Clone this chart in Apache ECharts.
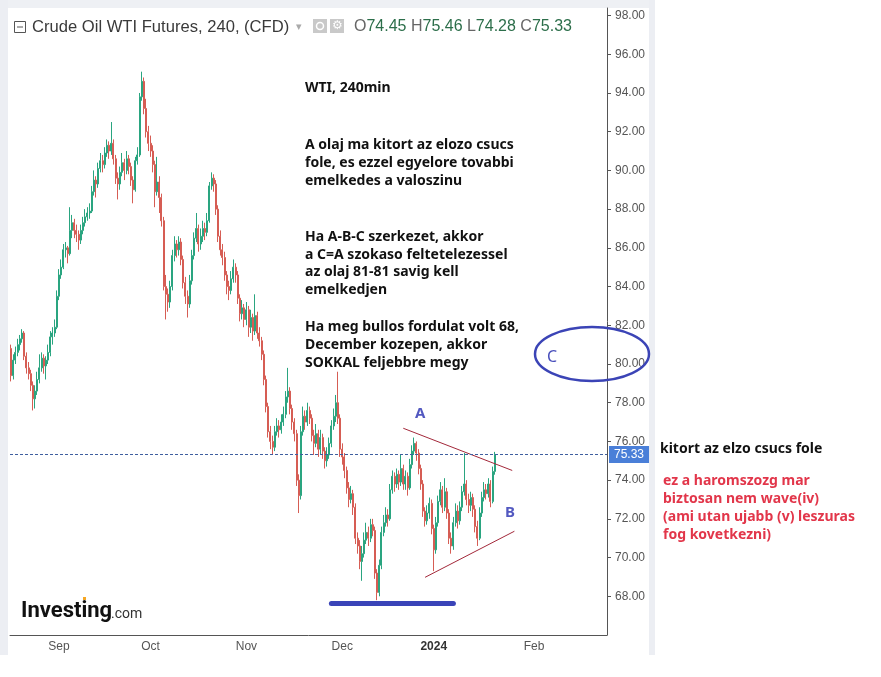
<!DOCTYPE html>
<html>
<head>
<meta charset="utf-8">
<script src="https://cdn.jsdelivr.net/npm/echarts@6/dist/echarts.min.js"></script>
<style>
html,body{margin:0;padding:0;background:#fff;}
#chart{width:881px;height:677px;}
</style>
</head>
<body>
<div id="chart"></div>
<script>
// 240 min candles (2 bars / weekday here)
var firstOpen = 80.8;
var closes = [
 79.4,80.2,80.6,81.0,81.3,81.6,80.4,79.8,79.5,78.9,
 78.2,78.6,79.2,79.8,80.3,79.9,80.2,80.6,81.4,81.6,
 81.9,83.5,84.6,85.0,85.9,86.0,85.7,86.9,87.3,86.9,
 86.7,86.4,86.9,87.3,87.6,87.8,87.9,88.9,89.5,89.3,
 90.1,90.5,90.3,90.9,91.3,91.0,91.4,90.6,89.6,89.3,
 89.9,90.4,90.0,90.6,90.2,89.5,89.0,90.5,90.8,93.8,
 94.6,93.2,92.0,91.4,91.0,90.3,88.9,89.4,88.6,87.4,
 84.0,83.6,83.2,84.0,85.6,86.2,85.9,86.3,85.4,84.2,
 83.5,83.1,84.3,85.6,86.5,87.0,86.2,86.6,87.0,86.8,
 87.4,89.2,89.6,89.3,88.0,86.6,85.9,85.5,84.6,84.0,
 83.8,84.4,85.0,84.6,83.4,82.6,82.9,82.3,82.8,81.9,
 82.4,81.7,82.5,81.6,81.2,80.5,79.2,77.8,76.5,76.0,
 75.7,76.5,76.8,76.6,77.0,77.4,78.3,78.6,77.7,77.0,
 76.4,74.0,73.2,76.5,77.3,77.0,77.6,77.2,76.3,75.9,
 76.4,75.6,76.2,75.5,75.0,75.3,75.9,76.8,77.3,78.0,
 77.2,75.6,75.2,74.5,73.6,73.0,73.3,72.6,71.0,70.6,
 69.8,70.2,70.9,71.3,71.0,71.7,71.4,69.2,68.2,69.6,
 71.3,71.8,72.2,72.0,73.5,74.2,73.8,74.3,73.9,74.6,
 73.8,74.2,73.6,74.8,75.5,75.9,75.4,74.6,73.8,72.4,
 71.9,72.3,72.8,71.5,70.4,71.8,72.9,73.5,72.6,73.4,
 72.3,71.0,70.6,71.8,72.4,71.9,72.6,73.4,73.8,73.0,
 72.7,73.1,72.5,71.6,71.0,72.3,73.1,73.5,73.3,73.8,
 72.9,74.45,75.33
];
var highs = [
 81.0,80.5,80.9,81.3,81.5,81.8,81.7,80.6,80.1,79.7,
 79.1,78.9,79.6,80.5,80.6,80.5,80.4,81.0,81.7,81.9,
 82.3,83.8,84.9,85.4,86.2,86.3,86.1,88.1,87.7,87.5,
 87.2,86.9,87.2,87.6,88.0,88.1,88.3,89.2,90.0,89.7,
 90.4,90.9,90.8,91.2,91.6,91.5,92.5,91.6,90.8,89.9,
 90.2,90.9,90.6,91.0,90.8,90.4,89.7,90.7,91.2,94.0,
 95.1,94.8,93.7,92.3,91.8,91.3,90.5,90.7,89.7,88.8,
 87.6,84.6,83.9,84.3,85.9,86.6,86.4,86.6,86.5,85.6,
 84.5,83.8,84.6,85.9,86.8,87.8,87.2,87.0,87.4,87.3,
 87.8,89.4,89.9,89.8,89.5,88.2,86.9,86.2,85.8,84.8,
 84.3,84.8,85.4,85.2,84.8,83.6,83.3,83.1,83.2,83.0,
 82.8,82.6,83.6,82.7,81.9,81.4,80.7,79.4,78.0,76.8,
 76.3,76.8,77.2,77.1,77.4,77.8,78.6,79.8,78.8,77.9,
 77.2,76.6,74.3,76.8,77.8,77.6,78.0,77.8,77.4,76.6,
 76.9,76.6,76.6,76.4,75.7,75.7,76.2,77.1,77.7,78.4,
 79.6,77.4,75.9,75.4,74.7,73.9,73.7,73.5,72.8,71.3,
 70.9,70.6,71.3,71.8,71.6,72.0,72.0,71.6,69.4,69.9,
 71.6,72.2,72.6,72.5,73.8,74.5,74.4,74.6,74.5,75.3,
 74.8,74.5,74.4,75.1,75.8,76.2,76.0,75.6,74.8,74.0,
 72.6,72.7,73.1,73.0,71.7,72.1,73.2,73.9,73.7,74.1,
 73.6,72.5,71.3,72.1,72.8,72.7,72.9,73.7,75.4,74.0,
 73.3,73.4,73.3,72.7,71.9,72.6,73.4,73.9,73.8,74.1,
 74.0,74.7,75.46
];
var lows = [
 79.1,79.2,80.0,80.4,80.7,81.1,80.2,79.5,79.2,78.6,
 77.6,77.7,78.4,79.0,79.6,79.5,79.2,80.0,80.4,81.0,
 81.4,81.8,83.3,84.4,84.9,85.5,85.2,85.6,86.5,86.5,
 86.3,85.9,86.2,86.7,87.1,87.4,87.5,87.8,88.7,88.6,
 89.1,89.9,89.9,90.1,90.7,90.6,90.8,90.3,89.3,88.5,
 89.0,89.7,89.5,89.8,89.8,89.2,88.3,88.9,90.3,90.7,
 93.6,92.9,91.7,91.0,90.7,89.9,88.1,88.7,87.8,87.1,
 83.8,82.3,82.7,82.9,83.8,85.3,85.5,85.6,85.1,83.9,
 83.1,82.4,82.9,84.1,85.4,86.3,85.8,85.9,86.3,86.4,
 86.6,87.3,89.0,88.9,87.7,86.3,85.6,85.1,84.3,83.6,
 83.3,83.6,84.2,84.2,83.1,82.2,82.3,81.9,82.0,81.4,
 81.6,81.2,81.5,81.3,80.9,80.2,78.9,77.5,76.2,75.6,
 75.3,75.5,76.3,76.2,76.4,76.8,77.2,78.0,77.4,76.6,
 76.0,73.7,72.3,73.0,76.3,76.6,76.8,76.9,76.0,75.3,
 75.7,75.2,75.3,75.1,74.6,74.7,75.1,75.7,76.6,77.0,
 76.9,75.2,74.8,74.1,73.3,72.6,72.8,72.2,70.7,70.2,
 69.4,68.8,70.0,70.7,70.6,70.8,71.1,68.9,67.8,68.0,
 69.4,71.1,71.6,71.6,71.9,73.3,73.4,73.6,73.5,73.7,
 73.5,73.5,73.2,73.5,74.6,75.3,75.0,74.3,73.5,72.1,
 71.6,71.7,72.0,71.2,69.3,70.2,71.6,72.7,72.3,72.4,
 72.0,70.7,70.2,70.4,71.6,71.5,71.7,72.4,73.2,72.7,
 72.3,72.4,72.1,71.3,70.6,70.9,72.1,72.9,73.0,73.1,
 72.6,72.8,74.28
];
var monthTicks = {'2023-09-01':'Sep','2023-10-02':'Oct','2023-11-01':'Nov','2023-12-01':'Dec','2024-01-01':'2024','2024-02-01':'Feb'};
var lastPrice = 75.33;

// categories: weekdays, two 12h slots each
var cats = [];
var d = new Date(Date.UTC(2023, 7, 17));
var end = new Date(Date.UTC(2024, 1, 23));
while (d <= end) {
    var wd = d.getUTCDay();
    if (wd != 0 && wd != 6) {
        var s = d.toISOString().slice(0, 10);
        cats.push(s + ' 00:00');
        cats.push(s + ' 12:00');
    }
    d.setUTCDate(d.getUTCDate() + 1);
}

var candles = [];
for (var i = 0; i < closes.length; i++) {
    var o = i == 0 ? firstOpen : closes[i - 1];
    candles.push([o, closes[i], lows[i], highs[i]]);
}

function isMonthTick(idx, val) {
    return val.slice(11) == '00:00' && monthTicks[val.slice(0, 10)] !== undefined;
}

var chart = echarts.init(document.getElementById('chart'));
var txt = function (t, x, y, font, fill, extra) {
    var o = {type: 'text', z: 100, style: {text: t, x: x, y: y, font: font, fill: fill,
        align: 'left', verticalAlign: 'middle', textAlign: 'left', textVerticalAlign: 'middle'}};
    if (extra) for (var k in extra) o.style[k] = extra[k];
    return o;
};
var noteFont = 'bold 14px "Noto Sans"';
var notes = [
    ['WTI, 240min', 88],
    ['A olaj ma kitort az elozo csucs', 145],
    ['fole, es ezzel egyelore tovabbi', 163],
    ['emelkedes a valoszinu', 181],
    ['Ha A-B-C szerkezet, akkor', 237],
    ['a C=A szokaso feltetelezessel', 255],
    ['az olaj 81-81 savig kell', 272],
    ['emelkedjen', 290],
    ['Ha meg bullos fordulat volt 68,', 327],
    ['December kozepen, akkor', 345],
    ['SOKKAL feljebbre megy', 363]
];
var redNotes = [
    ['ez a haromszozg mar', 481],
    ['biztosan nem wave(iv)', 499],
    ['(ami utan ujabb (v) leszuras', 517],
    ['fog kovetkezni)', 535]
];
var graphics = [
    {type: 'rect', z: 0, shape: {x: 0, y: 0, width: 655, height: 8}, style: {fill: '#eef0f4'}},
    {type: 'rect', z: 0, shape: {x: 0, y: 0, width: 8, height: 655}, style: {fill: '#eceef3'}},
    {type: 'rect', z: 0, shape: {x: 649, y: 0, width: 6, height: 655}, style: {fill: '#eceef3'}},
    // title row
    {type: 'rect', z: 100, shape: {x: 14.5, y: 21.5, width: 11, height: 11}, style: {fill: 'none', stroke: '#555', lineWidth: 1}},
    {type: 'line', z: 100, shape: {x1: 17, y1: 27, x2: 23, y2: 27}, style: {stroke: '#555', lineWidth: 1}},
    txt('Crude Oil WTI Futures, 240, (CFD)', 32, 27, '16.6px "Liberation Sans"', '#3a3a3a'),
    txt('\u25BE', 296, 27, '11px "DejaVu Sans"', '#aaa'),
    {type: 'rect', z: 100, shape: {x: 313, y: 19, width: 14, height: 14}, style: {fill: '#c9c9c9'}},
    {type: 'circle', z: 101, shape: {cx: 320, cy: 26, r: 3.5}, style: {fill: 'none', stroke: '#fff', lineWidth: 1.5}},
    {type: 'rect', z: 100, shape: {x: 330, y: 19, width: 14, height: 14}, style: {fill: '#c9c9c9'}},
    txt('\u2699', 332, 26, '12px "DejaVu Sans"', '#fff'),
    txt('{l|O}{n|74.45} {l|H}{n|75.46} {l|L}{n|74.28} {l|C}{n|75.33}', 354, 27, '16px "Liberation Sans"', '#555',
        {rich: {l: {fill: '#666', font: '16px "Liberation Sans"'}, n: {fill: '#2c6e4a', font: '16px "Liberation Sans"'}}}),
    // logo
    txt('Investing', 21, 611, 'bold 22px Roboto', '#111'),
    txt('.com', 111, 614, '14px Roboto', '#333'),
    {type: 'rect', z: 101, shape: {x: 83, y: 597, width: 3, height: 3}, style: {fill: '#f5a623'}},
    // wave labels
    txt('A', 415, 414, 'bold 15px "Noto Sans"', '#5258c0'),
    txt('B', 505, 513, 'bold 15px "Noto Sans"', '#5258c0'),
    txt('C', 547, 357, '16px "Noto Sans"', '#4a50bc'),
    {type: 'ellipse', z: 100, shape: {cx: 592, cy: 354, rx: 57, ry: 27}, style: {fill: 'none', stroke: '#3b44b6', lineWidth: 2.5}},
    txt('kitort az elzo csucs fole', 660, 449, noteFont, '#111')
];
notes.forEach(function (n) { graphics.push(txt(n[0], 305, n[1], noteFont, '#111')); });
redNotes.forEach(function (n) { graphics.push(txt(n[0], 663, n[1], noteFont, '#e2364a')); });

var option = {
    animation: false,
    backgroundColor: '#fff',
    grid: {left: 10, right: 274, top: 8, bottom: 42},
    xAxis: {
        type: 'category',
        data: cats,
        boundaryGap: true,
        axisLine: {lineStyle: {color: '#555', width: 1}},
        axisTick: {interval: isMonthTick, length: 4, lineStyle: {color: '#555'}},
        axisLabel: {
            interval: isMonthTick,
            color: '#555',
            fontSize: 12,
            fontFamily: 'Liberation Sans',
            margin: 6,
            formatter: function (v) {
                var m = monthTicks[v.slice(0, 10)];
                return m == '2024' ? '{b|2024}' : m;
            },
            rich: {b: {color: '#333', fontWeight: 'bold', fontSize: 12, fontFamily: 'Liberation Sans'}}
        },
        splitLine: {show: false}
    },
    yAxis: {
        type: 'value',
        position: 'right',
        min: 66,
        max: 98.39,
        interval: 2,
        scale: true,
        axisLine: {show: true, lineStyle: {color: '#555', width: 1}},
        axisTick: {show: true, length: 4, lineStyle: {color: '#555'}},
        axisLabel: {
            color: '#555',
            fontSize: 12,
            fontFamily: 'Liberation Sans',
            margin: 8,
            showMinLabel: false,
            showMaxLabel: false,
            formatter: function (v) { return (v > 66.5 && v < 98.2) ? v.toFixed(2) : ''; }
        },
        splitLine: {show: false}
    },
    series: [{
        type: 'candlestick',
        data: candles,
        barWidth: 1.5,
        itemStyle: {
            color: '#5b9e6c',
            color0: '#e2685c',
            borderColor: '#2aa580',
            borderColor0: '#d65d54',
            borderWidth: 1
        },
        markLine: {
            silent: true,
            symbol: 'none',
            animation: false,
            data: [
                [{coord: [180, 76.68], lineStyle: {color: '#a3283a', width: 1, type: 'solid'}, label: {show: false}}, {coord: [230, 74.5]}],
                [{coord: [190, 68.98], lineStyle: {color: '#a3283a', width: 1, type: 'solid'}, label: {show: false}}, {coord: [231, 71.36]}],
                [{coord: [147, 67.64], lineStyle: {color: '#3a44b8', width: 5, type: 'solid', cap: 'round'}, label: {show: false}}, {coord: [203, 67.64]}],
                {yAxis: lastPrice, lineStyle: {color: '#3f5f9f', width: 1, type: [3, 2]},
                    label: {show: true, position: 'end', formatter: '75.33', color: '#fff', backgroundColor: '#4a7fd8',
                        padding: [3, 5, 2, 5], distance: 2, fontSize: 12, fontFamily: 'Liberation Sans'}}
            ]
        }
    }],
    graphic: graphics
};
chart.setOption(option);
</script>
</body>
</html>
